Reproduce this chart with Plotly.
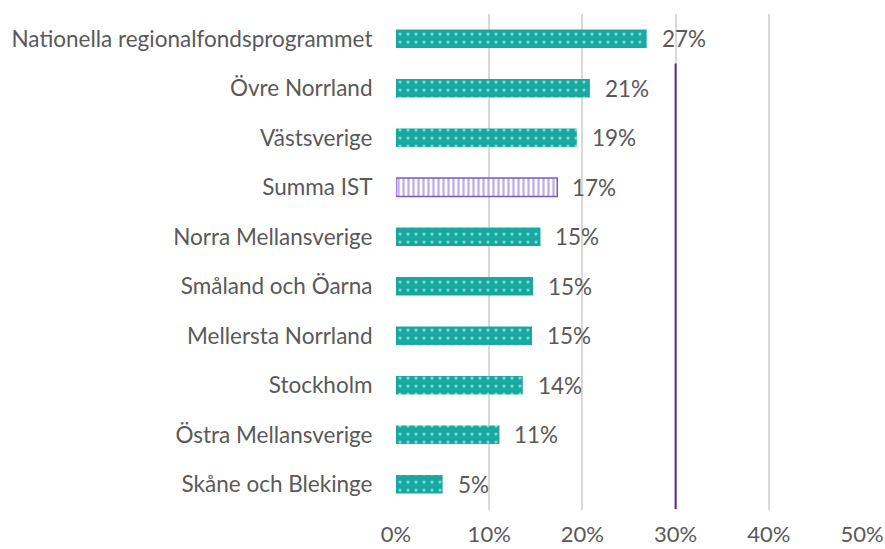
import plotly.graph_objects as go

categories = ["Nationella regionalfondsprogrammet", "Övre Norrland", "Västsverige", "Summa IST",
              "Norra Mellansverige", "Småland och Öarna", "Mellersta Norrland", "Stockholm",
              "Östra Mellansverige", "Skåne och Blekinge"]
values = [0.269, 0.208, 0.194, 0.173, 0.155, 0.147, 0.146, 0.136, 0.111, 0.050]
labels = ["27%", "21%", "19%", "17%", "15%", "15%", "15%", "14%", "11%", "5%"]
highlight = "Summa IST"
reference_value = 0.30
x_ticks = [0, 0.1, 0.2, 0.3, 0.4, 0.5]
x_ticklabels = ["0%", "10%", "20%", "30%", "40%", "50%"]

TEAL = "#17A9A1"
PURPLE = "#7C5BC6"
LINE_PURPLE = "#5B2A8E"
TXT = "#595959"
FONT = "Lato"
FS = 22.5

fig = go.Figure()
for cat, v in zip(categories, values):
    if cat == highlight:
        marker = dict(color="white", line=dict(color=PURPLE, width=1.5),
                      pattern=dict(shape="|", fgcolor=PURPLE, bgcolor="white", size=5, solidity=0.45, fillmode="overlay"))
    else:
        marker = dict(color=TEAL, line=dict(color=TEAL, width=0),
                      pattern=dict(shape=".", fgcolor="white", bgcolor=TEAL, size=8, solidity=0.12, fillmode="overlay"))
    fig.add_trace(go.Bar(y=[cat], x=[v], orientation="h", marker=marker, width=0.37,
                         showlegend=False, hoverinfo="skip"))

for cat, v, lab in zip(categories, values, labels):
    fig.add_annotation(x=v, y=cat, text=lab, showarrow=False, xanchor="left", xshift=13,
                       font=dict(family=FONT, size=FS, color=TXT))

fig.add_shape(type="line", x0=reference_value, x1=reference_value, y0=0.5, y1=len(categories) - 0.5,
              xref="x", yref="y", line=dict(color=LINE_PURPLE, width=2))

fig.update_layout(
    width=885, height=549,
    margin=dict(l=396, r=23, t=14, b=39),
    plot_bgcolor="white", paper_bgcolor="white",
    font=dict(family=FONT, size=FS, color=TXT),
    barmode="overlay",
    xaxis=dict(range=[0, 0.5], tickvals=x_ticks, ticktext=x_ticklabels, showgrid=True,
               gridcolor="#D9D9D9", gridwidth=2, zeroline=False, showline=False, automargin=False,
               ticks="outside", ticklen=5, tickcolor="rgba(0,0,0,0)",
               tickfont=dict(family=FONT, size=22, color=TXT)),
    yaxis=dict(categoryorder="array", categoryarray=categories, autorange="reversed",
               showgrid=False, zeroline=False, showline=False, automargin=False,
               ticks="outside", ticklen=18, tickcolor="rgba(0,0,0,0)",
               tickfont=dict(family=FONT, size=FS, color=TXT)),
)

fig.write_html("out.html", config={"displayModeBar": False},
               post_script="document.body.style.margin='0';document.body.style.overflow='hidden';")
